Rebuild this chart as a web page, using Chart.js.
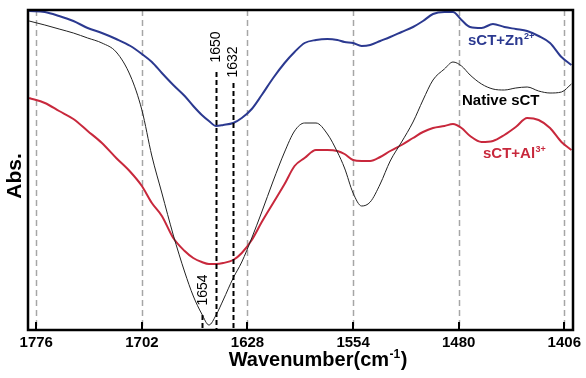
<!DOCTYPE html>
<html>
<head>
<meta charset="utf-8">
<script src="https://cdn.jsdelivr.net/npm/chart.js@4.4.1/dist/chart.umd.min.js"></script>
<style>
  html, body { margin: 0; padding: 0; background: #fff; }
  #wrap { width: 586px; height: 378px; }
</style>
</head>
<body>
<div id="wrap"><canvas id="ftirChart" width="586" height="378"></canvas></div>
<script>
// ===============================
// data
// ===============================
const wavenumbers = [1781, 1770, 1760, 1750, 1740, 1730, 1720, 1710, 1702, 1695,
    1688, 1680, 1672, 1666, 1660, 1655, 1650, 1645, 1638, 1632,
    1625, 1618, 1610, 1602, 1595, 1588, 1580, 1572, 1565, 1560,
    1554, 1548, 1542, 1535, 1528, 1520, 1512, 1505, 1498, 1490,
    1484, 1478, 1472, 1464, 1456, 1448, 1440, 1432, 1424, 1416,
    1408, 1401];

const absZn = [319, 318, 314, 309, 302, 297, 291, 284, 276, 268,
    257, 245, 234, 224, 215, 209, 204, 205, 207, 212,
    221, 235, 252, 267, 278, 287, 290, 291, 290, 288,
    287, 284, 285, 289, 293, 298, 303, 309, 316, 318,
    318, 310, 303, 302, 306, 303, 301, 299, 294, 287,
    273, 265];

const absNative = [309, 305, 301, 297, 292, 287, 278, 254, 220, 174,
    137, 95, 58, 34, 16, 5, 15, 30, 52, 68,
    92, 118, 149, 178, 199, 207, 207, 196, 178, 162,
    137, 124, 128, 146, 169, 188, 208, 230, 250, 261,
    268, 264, 255, 246, 241, 240, 242, 243, 239, 237,
    238, 246];

const absAl = [232, 227, 219, 211, 199, 187, 172, 158, 144, 127,
    114, 92, 79, 72, 68, 66, 66, 67, 70, 77,
    90, 108, 127, 146, 164, 172, 180, 180, 179, 176,
    170, 169, 169, 173, 179, 185, 192, 198, 202, 204,
    206, 202, 194, 188, 189, 195, 203, 212, 210, 202,
    188, 180];

const tickValues = [1776, 1702, 1628, 1554, 1480, 1406];

// marked peaks: [line position, label, top of line (abs)]
const peakMarks = [
    { at: 1650.4, label: "1650", top: 258 },
    { at: 1637.9, label: "1632", top: 247 },
    { at: 1659.7, label: "1654", top: 15 }
];

const NAVY = "#2b3990";
const RED = "#c8283c";
const FONT = "'Liberation Sans', Arial, sans-serif";

function toPoints(ys) {
    return wavenumbers.map((w, i) => ({ x: w, y: ys[i] }));
}

// text with a superscript part
function drawSup(ctx, main, sup, x, y, size, color) {
    ctx.fillStyle = color;
    ctx.textAlign = "left";
    ctx.textBaseline = "alphabetic";
    ctx.font = "bold " + size + "px " + FONT;
    ctx.fillText(main, x, y);
    const w = ctx.measureText(main).width;
    ctx.font = "bold " + Math.round(size * 0.62) + "px " + FONT;
    ctx.fillText(sup, x + w + 0.5, y - size * 0.38);
    return w + ctx.measureText(sup).width;
}

const decorPlugin = {
    id: "decor",
    beforeDatasetsDraw(chart) {
        // dashed grey grid at the ticks
        const { ctx, chartArea: a, scales: { x } } = chart;
        ctx.save();
        ctx.strokeStyle = "#a6a6a6";
        ctx.lineWidth = 1.5;
        ctx.setLineDash([6, 4]);
        tickValues.forEach(v => {
            const px = Math.round(x.getPixelForValue(v)) + 0.5;
            ctx.beginPath();
            ctx.moveTo(px, a.top);
            ctx.lineTo(px, a.bottom);
            ctx.stroke();
        });
        ctx.restore();
    },
    afterDraw(chart) {
        const { ctx, chartArea: a, scales: { x, y } } = chart;
        ctx.save();

        // dashed black peak lines
        ctx.strokeStyle = "#000";
        ctx.lineWidth = 2;
        ctx.setLineDash([5, 3]);
        peakMarks.forEach(m => {
            const px = Math.round(x.getPixelForValue(m.at)) + 0.5;
            ctx.beginPath();
            ctx.moveTo(px, y.getPixelForValue(m.top));
            ctx.lineTo(px, a.bottom);
            ctx.stroke();
        });
        ctx.setLineDash([]);

        // rotated peak labels
        ctx.fillStyle = "#000";
        ctx.font = "14px " + FONT;
        ctx.textAlign = "center";
        ctx.textBaseline = "middle";
        const labelPos = [[216, 47], [233, 62], [203, 290]];
        peakMarks.forEach((m, i) => {
            ctx.save();
            ctx.translate(labelPos[i][0], labelPos[i][1]);
            ctx.rotate(-Math.PI / 2);
            ctx.fillText(m.label, 0, 0);
            ctx.restore();
        });

        // inner tick marks
        ctx.strokeStyle = "#000";
        ctx.lineWidth = 2;
        tickValues.forEach(v => {
            const px = Math.round(x.getPixelForValue(v));
            ctx.beginPath();
            ctx.moveTo(px, a.bottom);
            ctx.lineTo(px, a.bottom - 8);
            ctx.stroke();
        });

        // frame
        ctx.lineWidth = 2.5;
        ctx.strokeRect(a.left, a.top, a.right - a.left, a.bottom - a.top);

        // series labels
        drawSup(ctx, "sCT+Zn", "2+", 468, 45, 15, NAVY);
        ctx.fillStyle = "#000";
        ctx.font = "bold 15px " + FONT;
        ctx.textAlign = "left";
        ctx.textBaseline = "alphabetic";
        ctx.fillText("Native sCT", 462, 105);
        drawSup(ctx, "sCT+Al", "3+", 483, 158, 15, RED);

        // axis titles
        ctx.save();
        ctx.translate(15, 176);
        ctx.rotate(-Math.PI / 2);
        ctx.fillStyle = "#000";
        ctx.font = "bold 21px " + FONT;
        ctx.textAlign = "center";
        ctx.textBaseline = "middle";
        ctx.fillText("Abs.", 0, 0);
        ctx.restore();

        ctx.font = "bold 20px " + FONT;
        const mainW = ctx.measureText("Wavenumber(cm").width;
        ctx.font = "bold 12px " + FONT;
        const supW = ctx.measureText("-1").width;
        ctx.font = "bold 20px " + FONT;
        const closeW = ctx.measureText(")").width;
        const tx = 318 - (mainW + supW + closeW + 1) / 2;
        const used = drawSup(ctx, "Wavenumber(cm", "-1", tx, 366, 20, "#000");
        ctx.font = "bold 20px " + FONT;
        ctx.fillText(")", tx + used + 1, 366);

        ctx.restore();
    }
};

document.addEventListener("DOMContentLoaded", () => {
    const ctx = document.getElementById("ftirChart").getContext("2d");

    new Chart(ctx, {
        type: "line",
        data: {
            datasets: [
                {
                    label: "sCT+Zn2+",
                    data: toPoints(absZn),
                    borderColor: NAVY,
                    borderWidth: 2,
                    pointRadius: 0,
                    cubicInterpolationMode: "monotone"
                },
                {
                    label: "Native sCT",
                    data: toPoints(absNative),
                    borderColor: "#222",
                    borderWidth: 1,
                    pointRadius: 0,
                    cubicInterpolationMode: "monotone"
                },
                {
                    label: "sCT+Al3+",
                    data: toPoints(absAl),
                    borderColor: RED,
                    borderWidth: 2,
                    pointRadius: 0,
                    cubicInterpolationMode: "monotone"
                }
            ]
        },
        options: {
            responsive: false,
            animation: false,
            layout: { padding: { left: 0, top: 10, right: 13, bottom: 0 } },
            plugins: {
                legend: { display: false },
                tooltip: { enabled: false }
            },
            scales: {
                x: {
                    type: "linear",
                    reverse: true,
                    min: 1399.9,
                    max: 1781.8,
                    afterBuildTicks: scale => {
                        scale.ticks = tickValues.map(v => ({ value: v }));
                    },
                    afterFit: scale => { scale.height = 48; },
                    border: { display: false },
                    grid: { display: true, drawOnChartArea: false, drawTicks: false, color: "rgba(0,0,0,0)" },
                    ticks: {
                        autoSkip: false,
                        maxRotation: 0,
                        padding: 4,
                        color: "#000",
                        font: { family: FONT, size: 15, weight: "bold" },
                        callback: v => String(v)
                    }
                },
                y: {
                    min: 0,
                    max: 320,
                    afterFit: scale => { scale.width = 28; },
                    border: { display: false },
                    grid: { display: false },
                    ticks: { display: false }
                }
            }
        },
        plugins: [decorPlugin]
    });
});
</script>
</body>
</html>
